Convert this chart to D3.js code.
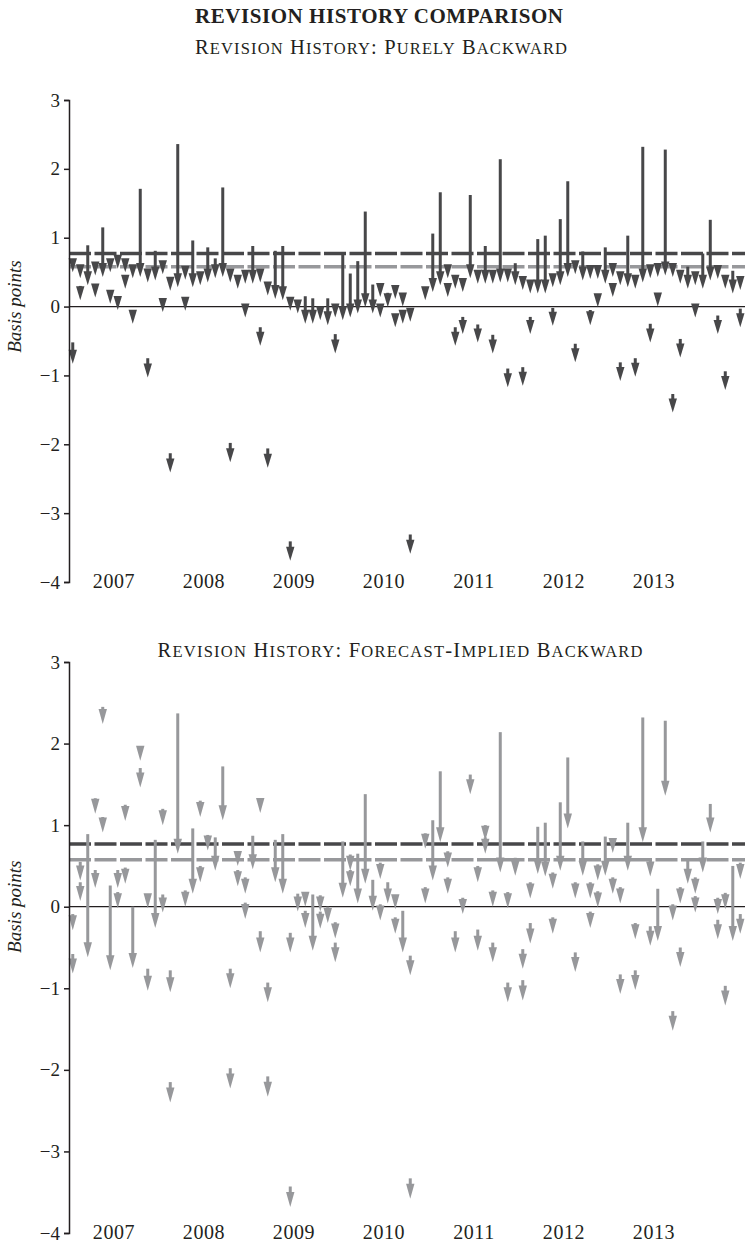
<!DOCTYPE html>
<html>
<head>
<meta charset="utf-8">
<script src="https://cdn.jsdelivr.net/npm/d3@7"></script>
<style>
  body { margin: 0; background: #fff; }
  svg { display: block; font-family: "Liberation Serif", "Times New Roman", serif; }
</style>
</head>
<body>
<div id="chart"></div>
<script>
// month index counted from Jan 2007 (0 = Jan 2007)
const years = [2007, 2008, 2009, 2010, 2011, 2012, 2013];
const yTicks = [3, 2, 1, 0, -1, -2, -3, -4];
const avgLines = [0.77, 0.577];

// Purely backward revisions: month, first value, revised value
const topMonth = [0,0,1,1,2,3,3,4,5,5,6,6,7,7,8,8,9,10,10,11,12,12,13,13,14,15,15,16,17,18,19,20,21,21,22,23,23,24,25,25,26,26,27,28,29,29,30,31,32,33,34,35,35,36,37,38,39,40,41,41,42,43,43,44,44,45,45,47,48,49,50,50,51,51,52,52,53,54,54,55,56,56,57,58,58,59,60,60,61,61,62,63,64,64,65,66,67,67,68,69,69,70,70,71,72,72,73,73,74,75,75,76,77,77,78,78,79,80,80,81,81,82,83,83,84,85,86,86,87,87,88,89,89];
const topFrom  = [0.70,-0.52,0.61,0.30,0.89,0.65,0.33,1.15,0.70,0.24,0.75,0.15,0.70,0.46,0.61,-0.05,1.71,0.55,-0.75,0.81,0.67,0.12,0.43,-2.13,2.36,0.59,0.14,0.96,0.51,0.86,0.70,1.73,0.55,-1.98,0.46,0.53,0.04,0.88,0.55,-0.30,0.36,-2.06,0.81,0.88,0.14,-3.41,0.10,0.15,0.12,0.00,0.12,0.04,-0.40,0.77,0.48,0.66,1.38,0.32,0.34,0.04,0.20,0.31,-0.10,0.20,-0.05,-0.02,-3.31,0.29,1.06,1.66,0.61,0.34,0.46,-0.30,0.41,-0.15,1.62,0.53,-0.26,0.88,0.53,-0.41,2.14,0.55,-0.90,0.63,0.44,-0.88,0.39,-0.15,0.98,1.03,0.48,-0.02,1.27,1.82,0.67,-0.54,0.80,0.60,-0.05,0.60,0.19,0.86,0.63,0.34,0.51,-0.81,1.03,0.46,-0.75,2.32,0.61,-0.25,0.63,0.20,2.28,0.63,-1.27,0.53,-0.47,0.58,0.51,0.04,0.77,1.26,0.60,-0.13,0.46,-0.94,0.52,0.44,-0.03];
const topTo    = [0.50,-0.83,0.41,0.09,0.31,0.45,0.13,0.43,0.50,0.04,0.55,-0.05,0.50,0.26,0.41,-0.25,0.43,0.35,-1.03,0.38,0.47,-0.08,0.23,-2.41,0.28,0.39,-0.06,0.28,0.31,0.35,0.41,0.43,0.35,-2.26,0.26,0.33,-0.16,0.33,0.35,-0.57,0.16,-2.34,0.11,0.09,-0.06,-3.69,-0.10,-0.25,-0.25,-0.20,-0.27,-0.16,-0.68,-0.20,-0.16,-0.10,-0.01,-0.10,0.14,-0.16,-0.01,0.11,-0.30,0.00,-0.25,-0.22,-3.59,0.09,0.21,0.31,0.41,0.14,0.26,-0.57,0.21,-0.40,0.41,0.33,-0.52,0.33,0.33,-0.68,0.35,0.35,-1.17,0.31,0.24,-1.15,0.19,-0.40,0.19,0.19,0.28,-0.28,0.31,0.43,0.47,-0.81,0.38,0.40,-0.27,0.40,-0.01,0.33,0.43,0.14,0.31,-1.08,0.28,0.26,-1.02,0.35,0.41,-0.52,0.43,0.00,0.45,0.43,-1.54,0.33,-0.74,0.26,0.31,-0.16,0.26,0.38,0.40,-0.40,0.26,-1.21,0.19,0.24,-0.30];

// Forecast-implied backward revisions
const botMonth = [0,0,1,1,2,3,3,4,4,5,6,6,7,7,8,9,9,10,10,11,12,12,13,13,14,15,16,17,17,18,19,20,21,21,22,22,23,23,24,25,25,26,26,27,28,29,29,30,31,31,32,33,33,34,35,35,36,37,37,38,39,40,41,41,42,43,43,44,45,45,47,47,48,49,50,50,51,52,53,54,54,55,55,56,56,57,58,58,59,60,60,61,61,62,63,64,64,65,66,67,67,68,69,69,70,70,71,72,72,73,73,74,75,75,76,77,77,78,79,80,80,81,81,82,83,83,84,85,86,86,87,87,88,89,89];
const botFrom  = [-0.09,-0.58,0.55,0.30,0.89,1.33,0.45,2.45,1.10,0.26,0.45,0.18,1.25,0.48,0.00,1.97,1.70,0.15,-0.76,0.82,1.20,0.15,-0.78,-2.15,2.37,0.20,0.96,1.30,0.50,0.88,0.85,1.72,-0.76,-1.98,0.68,0.45,0.36,0.05,0.87,1.33,-0.30,-0.93,-2.08,0.82,0.89,-0.32,-3.43,0.16,0.16,-0.05,0.15,0.14,-0.06,0.00,-0.19,-0.44,0.80,0.64,0.45,0.65,1.38,0.33,0.54,0.03,0.30,0.15,-0.13,-0.05,-0.60,-3.33,0.90,0.24,1.06,1.66,0.68,0.36,-0.30,0.11,1.62,0.50,-0.28,1.00,0.85,0.20,-0.44,2.14,0.18,-0.93,0.60,-0.52,-0.90,0.30,-0.20,0.98,1.03,0.42,-0.13,1.28,1.83,0.30,-0.56,0.80,0.30,-0.06,0.52,0.19,0.86,0.84,0.36,0.24,-0.83,1.03,-0.20,-0.78,2.32,0.57,-0.24,0.22,2.28,0.03,-1.28,0.24,-0.50,0.58,0.36,0.13,0.80,1.26,0.11,-0.16,0.17,-0.97,0.50,0.54,-0.09];
const botTo    = [-0.29,-0.82,0.32,0.07,-0.62,1.14,0.23,2.24,0.91,-0.78,0.23,-0.02,1.05,0.28,-0.75,1.79,1.46,-0.02,-1.03,-0.26,1.00,-0.07,-1.05,-2.40,0.65,0.00,0.16,1.10,0.30,0.69,0.44,1.06,-1.00,-2.23,0.50,0.25,0.16,-0.15,0.46,1.15,-0.56,-1.17,-2.33,0.30,0.16,-0.56,-3.68,-0.06,0.00,-0.26,-0.54,-0.06,-0.27,-0.20,-0.39,-0.68,0.11,0.44,0.25,0.04,0.28,-0.05,0.34,-0.17,0.04,-0.03,-0.33,-0.56,-0.84,-3.58,0.71,0.04,0.32,0.79,0.48,0.16,-0.56,-0.09,1.38,0.30,-0.54,0.81,0.65,0.00,-0.68,0.42,-0.02,-1.17,0.38,-0.76,-1.15,0.10,-0.45,0.40,0.37,0.22,-0.33,0.44,0.96,0.10,-0.80,0.38,0.10,-0.26,0.32,-0.01,0.38,0.66,0.16,0.04,-1.07,0.44,-0.40,-1.02,0.79,0.37,-0.48,-0.42,1.36,-0.17,-1.52,0.04,-0.74,0.28,0.16,-0.07,0.42,0.91,-0.09,-0.40,-0.03,-1.21,-0.42,0.34,-0.33];

const W = 745, H = 1255;
const dark = "#474749", light = "#97989b", ink = "#231f20";

const svg = d3.select("#chart").append("svg")
    .attr("width", W)
    .attr("height", H);

// x: months since Jan 2007, year labels at mid-year
const x = d3.scaleLinear().domain([0, 90.13]).range([69, 745]);

// small caps done by hand: capitals full size, lower case letters as smaller capitals
function smallCaps(sel, str, big, small) {
    const runs = str.match(/[a-z]+|[^a-z]+/g);
    sel.selectAll("tspan")
        .data(runs)
        .enter().append("tspan")
        .style("font-size", d => (/[a-z]/.test(d) ? small : big) + "px")
        .text(d => d.toUpperCase());
}

svg.append("text")
    .attr("x", 379).attr("y", 23)
    .attr("text-anchor", "middle")
    .attr("textLength", 368)
    .style("font-size", "21px")
    .style("font-weight", "bold")
    .style("fill", ink)
    .text("REVISION HISTORY COMPARISON");

function panel(opts) {
    const y = d3.scaleLinear().domain([-4, 3]).range([opts.bottom, opts.top]);
    const g = svg.append("g");

    g.append("text")
        .attr("x", opts.titleX).attr("y", opts.titleY)
        .attr("text-anchor", "middle")
        .attr("textLength", opts.titleLen)
        .style("fill", ink)
        .call(smallCaps, opts.title, 20.5, 16.5);

    // zero line
    g.append("line")
        .attr("x1", x(0)).attr("x2", W)
        .attr("y1", y(0)).attr("y2", y(0))
        .style("stroke", ink)
        .style("stroke-width", 1.3);

    // average lines
    g.selectAll(".avg")
        .data(avgLines)
        .enter().append("line")
        .attr("x1", x(0)).attr("x2", W)
        .attr("y1", d => y(d)).attr("y2", d => y(d))
        .style("stroke", (d, i) => i === 0 ? dark : light)
        .style("stroke-width", 3.5)
        .style("stroke-dasharray", "22,3.5");

    // arrows
    const rows = opts.month.map((m, i) => ({ m: m, from: opts.from[i], to: opts.to[i] }));
    const headH = opts.headH, headW = 4.2;

    const arrow = g.selectAll(".arrow")
        .data(rows)
        .enter().append("g")
        .attr("class", "arrow");

    arrow.filter(d => y(d.to) - y(d.from) > headH)
        .append("line")
        .attr("x1", d => x(d.m + 0.5)).attr("x2", d => x(d.m + 0.5))
        .attr("y1", d => y(d.from))
        .attr("y2", d => y(d.to) - headH + 2)
        .style("stroke", opts.color)
        .style("stroke-width", 3);

    arrow.append("path")
        .attr("d", d => {
            const cx = x(d.m + 0.5), ty = y(d.to);
            return `M${cx - headW},${ty - headH} L${cx + headW},${ty - headH} L${cx},${ty} Z`;
        })
        .style("fill", opts.color);

    // y axis
    const axis = g.append("g")
        .attr("transform", `translate(${x(0)},0)`)
        .call(d3.axisLeft(y).tickValues(yTicks).tickSize(5).tickPadding(4)
            .tickFormat(d => d < 0 ? "\u2212" + Math.abs(d) : d));
    axis.select(".domain").style("stroke", ink).style("stroke-width", 1.5);
    axis.selectAll(".tick line").style("stroke", ink).style("stroke-width", 1.5);
    axis.selectAll(".tick text")
        .style("font-size", "19px")
        .style("font-family", "'Liberation Serif', serif")
        .style("fill", ink);

    // year labels
    g.selectAll(".year")
        .data(years)
        .enter().append("text")
        .attr("x", d => x((d - 2007) * 12 + 6))
        .attr("y", opts.bottom + 6)
        .attr("text-anchor", "middle")
        .style("font-size", "20px")
        .style("letter-spacing", "0.6px")
        .style("fill", ink)
        .text(d => d);

    // y label
    g.append("text")
        .attr("transform", `translate(21,${y(0)}) rotate(-90)`)
        .attr("text-anchor", "middle")
        .style("font-size", "19px")
        .style("font-style", "italic")
        .style("fill", ink)
        .text("Basis points");
}

panel({
    top: 100, bottom: 582,
    title: "Revision History: Purely Backward", titleX: 381, titleY: 54, titleLen: 372,
    month: topMonth, from: topFrom, to: topTo,
    color: dark, headH: 14
});

panel({
    top: 662, bottom: 1233,
    title: "Revision History: Forecast-Implied Backward", titleX: 400, titleY: 657, titleLen: 485,
    month: botMonth, from: botFrom, to: botTo,
    color: light, headH: 15
});
</script>
</body>
</html>
